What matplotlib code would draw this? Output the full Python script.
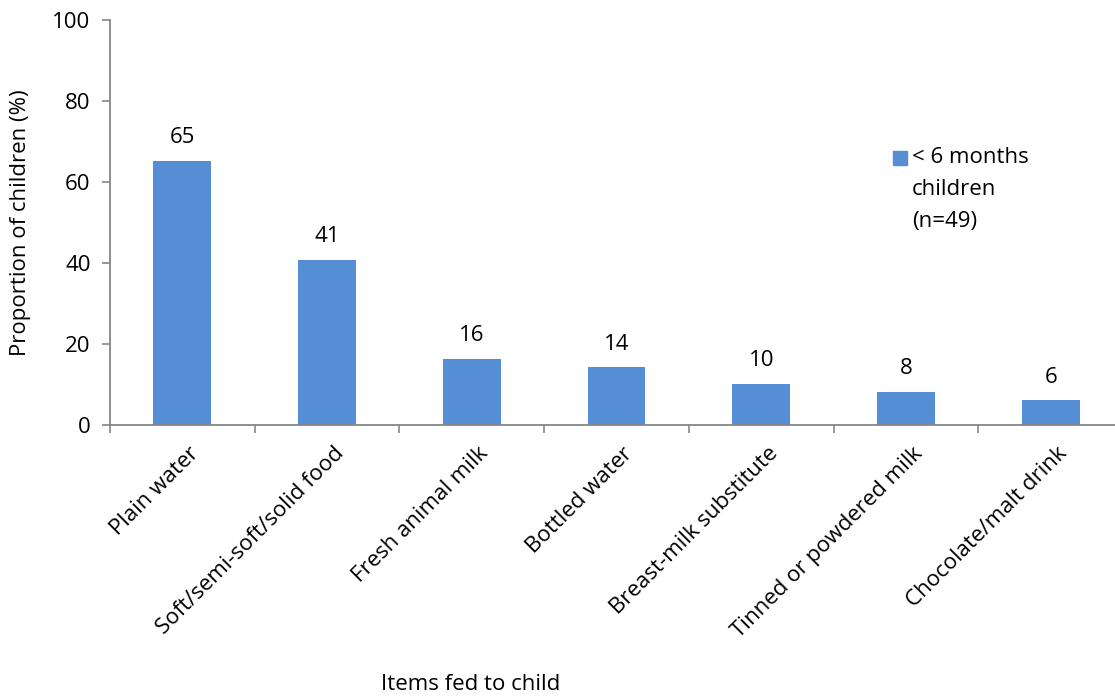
import matplotlib
matplotlib.use("Agg")
import matplotlib.pyplot as plt
from matplotlib.patches import Rectangle
from matplotlib.transforms import ScaledTranslation

# Items given to infants under six months (n=49), percent of children
items = ["Plain water", "Soft/semi-soft/solid food", "Fresh animal milk",
         "Bottled water", "Breast-milk substitute", "Tinned or powdered milk",
         "Chocolate/malt drink"]
proportions = [65.3, 40.8, 16.3, 14.3, 10.2, 8.2, 6.1]
y_ticks = [0, 20, 40, 60, 80, 100]
series_label = "< 6 months\nchildren\n(n=49)"

plt.rcParams["font.family"] = ["Open Sans", "DejaVu Sans"]
FS = 16

W, H = 1115, 696
fig = plt.figure(figsize=(W / 100, H / 100), dpi=100)
left, right, top, bottom = 110, 1123, 20, 425
ax = fig.add_axes([left / W, 1 - bottom / H, (right - left) / W, (bottom - top) / H])

bar_color = "#558ED5"
axis_color = "#868686"
x = list(range(len(items)))
ax.bar(x, proportions, width=0.40, color=bar_color, zorder=2)

for xi, v in zip(x, proportions):
    ax.annotate(f"{v:.0f}", (xi, v), xytext=(0, 9), textcoords="offset points",
                ha="center", va="bottom", fontsize=FS, color="black")

ax.set_xlim(-0.5, len(items) - 0.5)
ax.set_ylim(0, 100)
ax.set_yticks(y_ticks)
ax.set_yticklabels([str(t) for t in y_ticks], fontsize=FS)

# category ticks sit between the bars
ax.set_xticks([i - 0.5 for i in range(len(items) + 1)], minor=False)
ax.set_xticklabels([])
ax.set_xticks(x, minor=True)
ax.set_xticklabels(items, minor=True, rotation=45, ha="right",
                   rotation_mode="anchor", fontsize=FS)
ax.tick_params(axis="x", which="minor", length=0, pad=13)
ax.tick_params(axis="x", which="major", length=6, width=1.2, color=axis_color, direction="out")
ax.tick_params(axis="y", length=6, width=1.2, color=axis_color, direction="out", pad=8)
shift = ScaledTranslation(6 / 100, 0, fig.dpi_scale_trans)
for lab in ax.get_xticklabels(minor=True):
    lab.set_transform(lab.get_transform() + shift)

for s in ["top", "right"]:
    ax.spines[s].set_visible(False)
for s in ["left", "bottom"]:
    ax.spines[s].set_color(axis_color)
    ax.spines[s].set_linewidth(1.3)

ax.set_ylabel("Proportion of children (%)", fontsize=FS)
ax.yaxis.set_label_coords((31 - left) / (right - left), 0.5)
fig.text(471 / W, 1 - 684 / H, "Items fed to child", ha="center", va="center", fontsize=FS)

# legend drawn as a marker plus text block
fig.patches.append(Rectangle((893 / W, 1 - 165 / H), 14 / W, 14 / H,
                             transform=fig.transFigure, color=bar_color))
fig.text(912 / W, 1 - 147 / H, series_label, ha="left", va="top",
         fontsize=FS, linespacing=1.68)

fig.savefig("out.png", dpi=100)
